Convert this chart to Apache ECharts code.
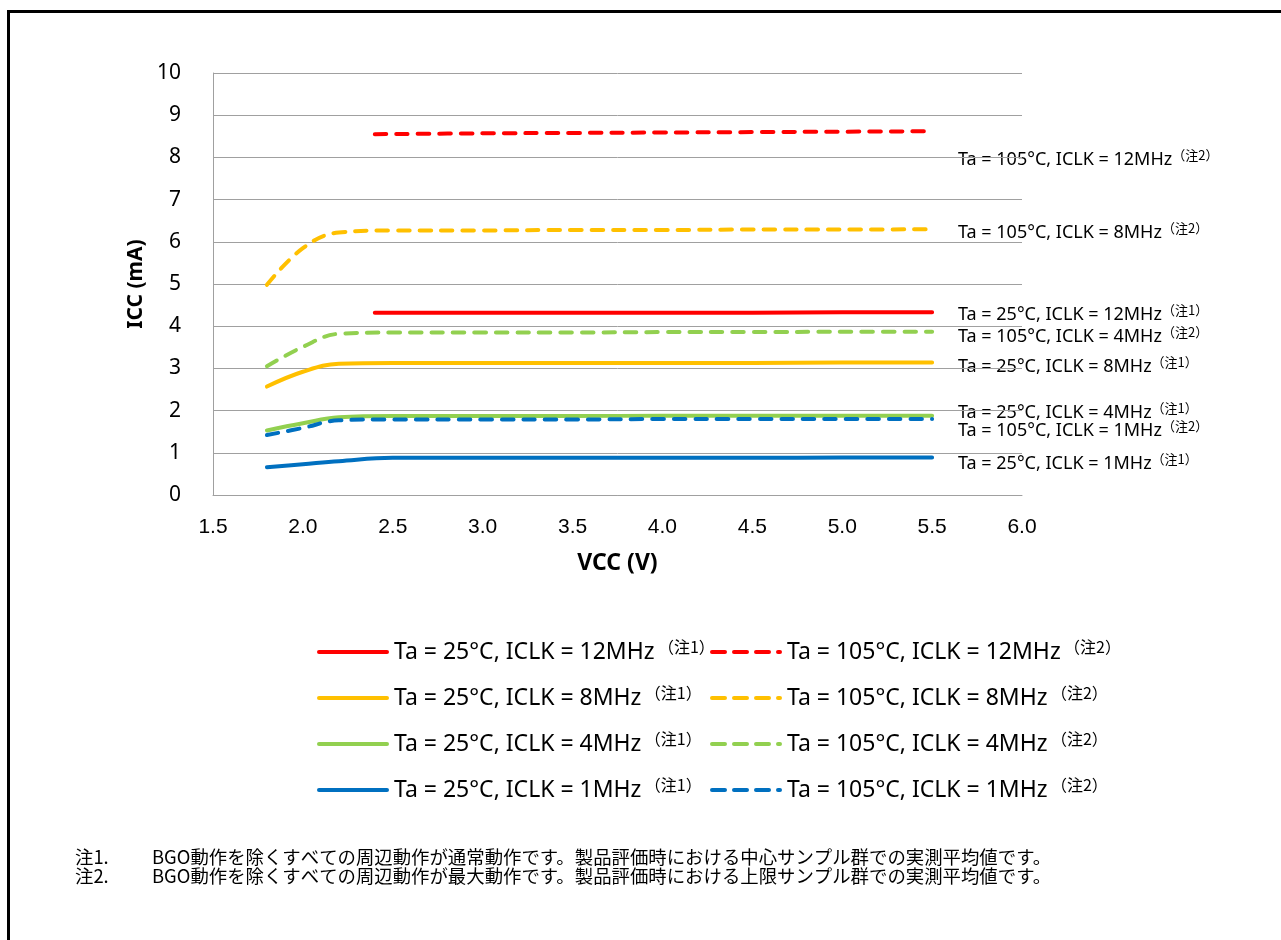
<!DOCTYPE html>
<html><head><meta charset="utf-8">
<script src="https://cdn.jsdelivr.net/npm/echarts@6/dist/echarts.min.js"></script>
<style>html,body{margin:0;padding:0;background:#fff}#c{width:1281px;height:940px}</style>
</head><body><div id="c"></div>
<script>
// ---- data ----
const vccLow = [1.8, 2.0, 2.2, 2.5, 3.0, 3.5, 4.0, 4.5, 5.0, 5.5];
const vccHigh = [2.4, 3.0, 3.5, 4.0, 4.5, 5.0, 5.5];
const icc25_12 = [4.32, 4.32, 4.32, 4.32, 4.32, 4.33, 4.33];
const icc105_12 = [8.55, 8.57, 8.58, 8.59, 8.60, 8.61, 8.62];
const icc25_8 = [2.57, 2.92, 3.11, 3.13, 3.13, 3.13, 3.13, 3.13, 3.14, 3.14];
const icc105_8 = [4.98, 5.85, 6.22, 6.27, 6.27, 6.28, 6.28, 6.29, 6.29, 6.30];
const icc25_4 = [1.53, 1.70, 1.84, 1.87, 1.87, 1.87, 1.88, 1.88, 1.88, 1.88];
const icc105_4 = [3.05, 3.51, 3.82, 3.85, 3.85, 3.85, 3.86, 3.86, 3.87, 3.87];
const icc25_1 = [0.66, 0.73, 0.80, 0.88, 0.88, 0.88, 0.88, 0.88, 0.89, 0.89];
const icc105_1 = [1.42, 1.59, 1.77, 1.79, 1.79, 1.79, 1.80, 1.80, 1.80, 1.80];

const names25 = ['Ta = 25°C, ICLK = 12MHz', 'Ta = 25°C, ICLK = 8MHz', 'Ta = 25°C, ICLK = 4MHz', 'Ta = 25°C, ICLK = 1MHz'];
const names105 = ['Ta = 105°C, ICLK = 12MHz', 'Ta = 105°C, ICLK = 8MHz', 'Ta = 105°C, ICLK = 4MHz', 'Ta = 105°C, ICLK = 1MHz'];
const note25 = '（注1）';
const note105 = '（注2）';
const xTicks = [1.5, 2.0, 2.5, 3.0, 3.5, 4.0, 4.5, 5.0, 5.5, 6.0];
const notes = [
  ['注1.', 'BGO動作を除くすべての周辺動作が通常動作です。製品評価時における中心サンプル群での実測平均値です。'],
  ['注2.', 'BGO動作を除くすべての周辺動作が最大動作です。製品評価時における上限サンプル群での実測平均値です。']
];

// ---- styling ----
const colors = ['#FF0000', '#FFC000', '#92D050', '#0070C0'];
const LF = '"Noto Sans", sans-serif';
const zip = (xs, ys) => ys.map((y, i) => [xs[i], y]);
const DASH = [11.5, 10];

// legend icons (rounded bars), width 72, height 4
const seg = (a, b) => 'M' + (a + 2) + ',0 H' + (b - 2) + ' A2,2 0 0 1 ' + (b - 2) + ',4 H' + (a + 2) + ' A2,2 0 0 1 ' + (a + 2) + ',0 Z ';
const iconSolid = 'path://' + seg(0, 72);
const iconDashed = 'path://' + seg(0, 17) + seg(22, 39) + seg(44, 61) + seg(66, 72);

const seriesDefs = [
  [names25[0], zip(vccHigh, icc25_12), colors[0], 'solid'],
  [names25[1], zip(vccLow, icc25_8), colors[1], 'solid'],
  [names25[2], zip(vccLow, icc25_4), colors[2], 'solid'],
  [names25[3], zip(vccLow, icc25_1), colors[3], 'solid'],
  [names105[0], zip(vccHigh, icc105_12), colors[0], 'dashed'],
  [names105[1], zip(vccLow, icc105_8), colors[1], 'dashed'],
  [names105[2], zip(vccLow, icc105_4), colors[2], 'dashed'],
  [names105[3], zip(vccLow, icc105_1), colors[3], 'dashed']
];

const series = seriesDefs.map(([name, data, color, type]) => ({
  name, type: 'line', data, smooth: 0.4, symbol: 'none', showSymbol: false,
  color, itemStyle: { color },
  lineStyle: { color, width: 4, type: type === 'dashed' ? DASH : 'solid', cap: 'round' },
  emphasis: { disabled: true }
}));

// right-side labels
const labelItems = [
  [names105[0], note105, 158],
  [names105[1], note105, 231],
  [names25[0], note25, 313],
  [names105[2], note105, 335],
  [names25[1], note25, 365],
  [names25[2], note25, 411],
  [names105[3], note105, 429],
  [names25[3], note25, 462]
];

const richSup = (fs) => ({
  main: { fontSize: fs, fontFamily: LF, color: '#000' },
  sup: { fontSize: Math.round(fs * 0.7), fontFamily: '"Noto Sans CJK JP", sans-serif', color: '#000', verticalAlign: 'top', padding: [0, 0, Math.round(fs * 0.45), 0] }
});

const graphics = [];
labelItems.forEach(([n, note, y]) => {
  graphics.push({
    type: 'text', left: 958, top: y - 9,
    style: { text: '{main|' + n + '}{sup|' + note + '}', rich: richSup(18), fill: '#000' }
  });
});
notes.forEach(([a, b], i) => {
  const y = 848 + i * 19;
  graphics.push({ type: 'text', left: 75, top: y, style: { text: a, font: '18.4px "Noto Sans CJK JP", sans-serif', fill: '#000' } });
  graphics.push({ type: 'text', left: 152, top: y, style: { text: b, font: '18.4px "Noto Sans CJK JP", sans-serif', fill: '#000' } });
});
// frame
graphics.push({ type: 'line', shape: { x1: 8.5, y1: 10, x2: 8.5, y2: 940 }, style: { stroke: '#000', lineWidth: 3 } });
graphics.push({ type: 'line', shape: { x1: 7, y1: 11.5, x2: 1281, y2: 11.5 }, style: { stroke: '#000', lineWidth: 3 } });

const legendBase = {
  orient: 'vertical', itemWidth: 72, itemHeight: 4, itemGap: 21.5, padding: 0,
  textStyle: { rich: richSup(23) },
  selectedMode: false
};

const option = {
  animation: false,
  backgroundColor: '#fff',
  grid: { left: 213, right: 259, top: 73, bottom: 445 },
  xAxis: {
    type: 'value', min: 1.5, max: 6.0, interval: 0.5,
    name: 'VCC (V)', nameLocation: 'middle', nameGap: 57,
    nameTextStyle: { fontSize: 23, fontWeight: 'bold', fontFamily: LF, color: '#000' },
    axisLine: { show: true, lineStyle: { color: '#a0a0a0', width: 1 } },
    axisTick: { show: false },
    splitLine: { show: false },
    axisLabel: { margin: 22, fontSize: 21, fontFamily: '"Liberation Sans", Arial, sans-serif', color: '#000',
      formatter: v => { const t = xTicks.find(x => Math.abs(x - v) < 1e-6); return t === undefined ? '' : t.toFixed(1); } }
  },
  yAxis: {
    type: 'value', min: 0, max: 10, interval: 1,
    name: 'ICC (mA)', nameLocation: 'middle', nameGap: 59, nameRotate: 90,
    nameTextStyle: { fontSize: 21, fontWeight: 'bold', fontFamily: LF, color: '#000' },
    axisLine: { show: true, lineStyle: { color: '#a0a0a0', width: 1 } },
    axisTick: { show: false },
    splitLine: { show: true, lineStyle: { color: '#a0a0a0', width: 1 } },
    axisLabel: { margin: 32, fontSize: 21, fontFamily: LF, color: '#000' }
  },
  legend: [
    Object.assign({}, legendBase, { left: 317, top: 639,
      data: names25.map(n => ({ name: n, icon: iconSolid })),
      formatter: n => '{main|' + n + '} {sup|' + note25 + '}' }),
    Object.assign({}, legendBase, { left: 710, top: 639,
      data: names105.map(n => ({ name: n, icon: iconDashed })),
      formatter: n => '{main|' + n + '} {sup|' + note105 + '}' })
  ],
  graphic: graphics,
  series
};

const chart = echarts.init(document.getElementById('c'), null, { renderer: 'canvas' });
chart.setOption(option);
</script>
</body></html>
